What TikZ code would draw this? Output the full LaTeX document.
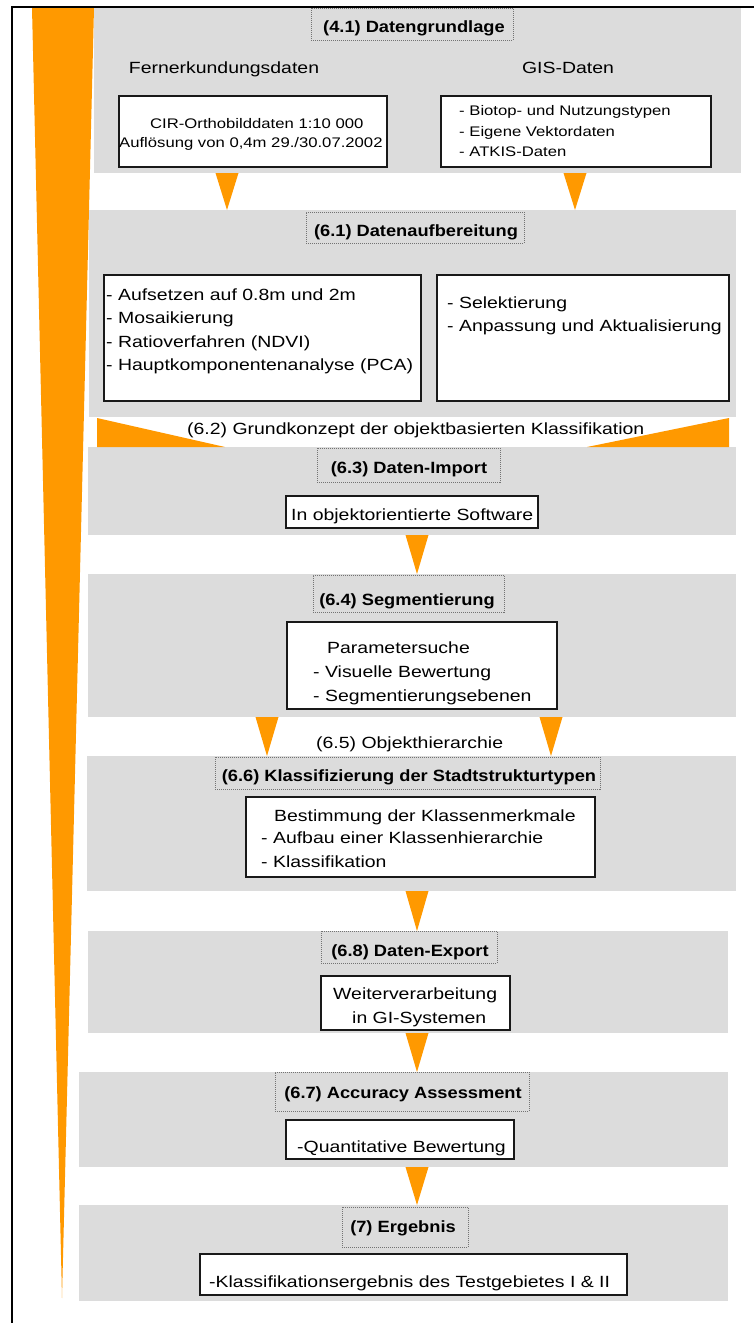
\documentclass[tikz,border=0pt]{standalone}
\usepackage{fontspec}
\setmainfont{Liberation Sans}[FakeStretch=1.2]
\newfontfamily\ttlfont{Liberation Sans}[FakeStretch=1.12]
\usetikzlibrary{calc}
\definecolor{orng}{RGB}{255,153,0}
\definecolor{gbg}{RGB}{220,220,220}
\newcommand\rbox[6]{\node[#1,minimum width={(#5-#3)*1pt},minimum height={(#6-#4)*1pt}] (#2) at (#3,#4) {};}
\newcommand\tria[3]{\fill[tri] ($(#1.south -| #3)+(-11.5,0)$) -- ($(#1.south -| #3)+(11.5,0)$) -- (#2.north -| #3) -- cycle;}
\begin{document}
\begin{tikzpicture}[x=1pt,y=-1pt,
  gbox/.style={fill=gbg,draw=none,anchor=north west,inner sep=0,outer sep=0},
  wbox/.style={draw=black!90,fill=white,line width=1.4pt,anchor=north west,inner sep=0,outer sep=0},
  tbox/.style={draw=black!55,dash pattern=on 1pt off 1pt,line width=0.9pt,anchor=north west,inner sep=0,outer sep=0},
  ttl/.style={font=\ttlfont\bfseries\fontsize{16.3}{19}\selectfont,anchor=base,inner sep=0},
  txt/.style={font=\fontsize{16.2}{19}\selectfont,anchor=base west,inner sep=0},
  ctxt/.style={font=\fontsize{16.2}{19}\selectfont,anchor=base,inner sep=0},
  stxt/.style={font=\fontsize{13.9}{17}\selectfont,anchor=base west,inner sep=0},
  tri/.style={fill=orng,draw=none},
]
\useasboundingbox (0,0) rectangle (754,1323);
\fill[white] (0,0) rectangle (754,1323);

% orange spike
\fill[orng] (32,8) -- (94,8) -- (62,1298) -- cycle;

% gray panels
\rbox{gbox}{g1}{94}{8}{741}{173}
\rbox{gbox}{g2}{89}{210}{736}{417}
\rbox{gbox}{g3}{88}{447}{736}{535}
\rbox{gbox}{g4}{88}{574}{736}{717}
\rbox{gbox}{g5}{87}{756}{736}{891}
\rbox{gbox}{g6}{88}{931}{728}{1033}
\rbox{gbox}{g7}{79}{1072}{728}{1167}
\rbox{gbox}{g8}{79}{1205}{728}{1301}

% (6.2) wedges
\fill[tri] ($(g2.south west)+(8,1)$) -- ($(g3.north west)+(9,0)$) -- ($(g3.north west)+(137,0)$) -- cycle;
\fill[tri] ($(g2.south east)+(-7,1)$) -- ($(g3.north east)+(-7,0)$) -- ($(g3.north east)+(-149,0)$) -- cycle;

% arrow x positions
\coordinate (xa) at (227,0);
\coordinate (xb) at (575,0);
\coordinate (xc) at (417,0);
\coordinate (xd) at (267,0);
\coordinate (xe) at (551,0);
\tria{g1}{g2}{xa}
\tria{g1}{g2}{xb}
\tria{g3}{g4}{xc}
\tria{g4}{g5}{xd}
\tria{g4}{g5}{xe}
\tria{g5}{g6}{xc}
\tria{g6}{g7}{xc}
\tria{g7}{g8}{xc}

% white boxes
\rbox{wbox}{b1}{119}{96}{387}{167}
\rbox{wbox}{b2}{441}{96}{711}{167}
\rbox{wbox}{b3}{104}{275}{421}{401}
\rbox{wbox}{b4}{437}{275}{729}{401}
\rbox{wbox}{b5}{286}{496}{538}{528}
\rbox{wbox}{b6}{287}{622}{557}{709}
\rbox{wbox}{b7}{246}{797}{595}{877}
\rbox{wbox}{b8}{321}{976}{510}{1030}
\rbox{wbox}{b9}{286}{1120}{514}{1159}
\rbox{wbox}{b10}{200}{1254}{627}{1295}

% dotted title boxes
\rbox{tbox}{t1}{311}{8}{513}{40}
\rbox{tbox}{t2}{306}{212}{524}{243}
\rbox{tbox}{t3}{317}{448}{500}{482}
\rbox{tbox}{t4}{313}{575}{504}{612}
\rbox{tbox}{t5}{215}{757}{600}{789}
\rbox{tbox}{t6}{321}{931}{497}{963}
\rbox{tbox}{t7}{275}{1072}{529}{1111}
\rbox{tbox}{t8}{342}{1207}{468}{1247}

% titles
\node[ttl] (tt1) at (414,32) {(4.1) Datengrundlage};
\node[ttl] (tt2) at (416,236) {(6.1) Datenaufbereitung};
\node[ttl] (tt3) at (409,473) {(6.3) Daten-Import};
\node[ttl] (tt4) at (407,605) {(6.4) Segmentierung};
\node[ttl] (tt5) at (409,781) {(6.6) Klassifizierung der Stadtstrukturtypen};
\node[ttl] (tt6) at (410,956) {(6.8) Daten-Export};
\node[ttl] (tt7) at (403,1098) {(6.7) Accuracy Assessment};
\node[ttl] (tt8) at (403,1232) {(7) Ergebnis};

% texts
\node[ctxt] (fe) at (224,73) {Fernerkundungsdaten};
\node[ctxt] (gis) at (568,73) {GIS-Daten};
\node[stxt] (c1) at (150,128) {CIR-Orthobilddaten 1:10 000};
\node[stxt] (c2) at (119,147) {Auflösung von 0,4m 29./30.07.2002};
\node[stxt] (d1) at (459,115) {- Biotop- und Nutzungstypen};
\node[stxt] (d2) at (459,136) {- Eigene Vektordaten};
\node[stxt] (d3) at (459,156) {- ATKIS-Daten};

\node[txt] (e1) at (106,300) {- Aufsetzen auf 0.8m und 2m};
\node[txt] (e2) at (106,323.5) {- Mosaikierung};
\node[txt] (e3) at (106,347) {- Ratioverfahren (NDVI)};
\node[txt] (e4) at (106,370) {- Hauptkomponentenanalyse (PCA)};
\node[txt] (f1) at (447,308) {- Selektierung};
\node[txt] (f2) at (447,331) {- Anpassung und Aktualisierung};

\node[txt] (k62) at (187,434) {(6.2) Grundkonzept der objektbasierten Klassifikation};
\node[txt] (s1) at (291,520) {In objektorientierte Software};

\node[txt] (p1) at (327,653) {Parametersuche};
\node[txt] (p2) at (313,677) {- Visuelle Bewertung};
\node[txt] (p3) at (313,701) {- Segmentierungsebenen};
\node[txt] (k65) at (316,748) {(6.5) Objekthierarchie};

\node[txt] (m1) at (274,821) {Bestimmung der Klassenmerkmale};
\node[txt] (m2) at (261,843) {- Aufbau einer Klassenhierarchie};
\node[txt] (m3) at (261,867) {- Klassifikation};

\node[txt] (w1) at (333,999) {Weiterverarbeitung};
\node[txt] (w2) at (352,1023) {in GI-Systemen};

\node[txt] (q1) at (297,1152) {-Quantitative Bewertung};
\node[txt] (r1) at (209,1287) {-Klassifikationsergebnis des Testgebietes I \& II};

% frame
\draw[line width=2pt] (754,7) -- (12,7) -- (12,1323);
\end{tikzpicture}
\end{document}
